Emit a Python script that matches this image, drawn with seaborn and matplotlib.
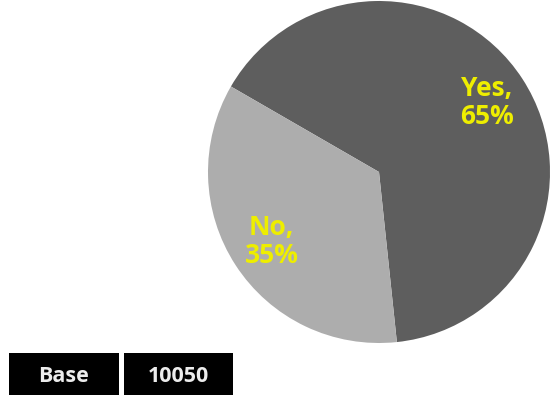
import matplotlib
matplotlib.use("Agg")
import matplotlib.pyplot as plt
from matplotlib.patches import Rectangle
import seaborn as sns

# Survey answers and their shares (percent)
answers = ["Yes", "No"]
shares = [65, 35]
slice_colors = ["#5e5e5e", "#adadad"]

# Sample size shown in the base table
base_label = "Base"
base_value = 10050

sns.set_theme(style="white")
plt.rcParams["font.family"] = ["Open Sans", "DejaVu Sans"]

fig = plt.figure(figsize=(5.53, 3.95), dpi=100)
fig.patch.set_facecolor("white")

# Pie axes: square area on the right side of the figure
W, H = 553, 395
cx, cy, r = 379, 172, 171
ax = fig.add_axes([(cx - r) / W, (H - cy - r) / H, 2 * r / W, 2 * r / H])

labels = [f"{a},\n{s}%" for a, s in zip(answers, shares)]
wedges, texts = ax.pie(
    shares,
    labels=labels,
    colors=slice_colors,
    startangle=-84,
    labeldistance=0.75,
    wedgeprops=dict(linewidth=0),
    textprops=dict(color="#eeee00", fontsize=19, fontweight="bold",
                   linespacing=1.05),
)
for t in texts:
    t.set_horizontalalignment("center")
    t.set_verticalalignment("center")
ax.set_xlim(-1, 1)
ax.set_ylim(-1, 1)
ax.set_aspect("equal")
ax.axis("off")

# Base table: two black cells at the bottom-left
cells = [(base_label, 9, 119), (f"{base_value}", 124, 233)]
top, bottom = 353, 395
for text, x0, x1 in cells:
    fig.patches.append(Rectangle((x0 / W, 1 - bottom / H), (x1 - x0) / W,
                                 (bottom - top) / H, transform=fig.transFigure,
                                 facecolor="black", edgecolor="none"))
    fig.text((x0 + x1) / 2 / W, 1 - 377 / H, text, color="#ececec",
             fontsize=15.5, fontweight="bold", ha="center", va="center")

fig.savefig("out.png", dpi=100, facecolor="white")
